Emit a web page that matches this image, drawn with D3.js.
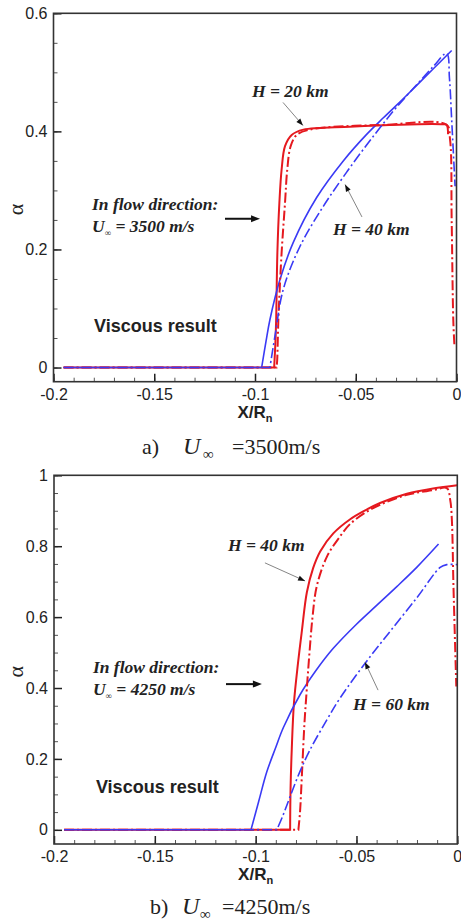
<!DOCTYPE html>
<html>
<head>
<meta charset="utf-8">
<script src="https://cdn.jsdelivr.net/npm/d3@7"></script>
<style>
  body { margin: 0; background: #fff; }
  svg { display: block; }
  .tick text { font-family: "Liberation Sans", Arial, sans-serif; font-size: 16px; fill: #222; }
</style>
</head>
<body>
<svg id="chart" width="461" height="923"></svg>
<script>
// x ticks (shared by both panels)
var xTickVals = [-0.2, -0.15, -0.1, -0.05, 0];
var xTickText = ["-0.2", "-0.15", "-0.1", "-0.05", "0"];

// panel a) U = 3500 m/s
var yTickValsA = [0, 0.2, 0.4, 0.6];
var yTickTextA = ["0", "0.2", "0.4", "0.6"];
var redSolidA = [[-0.195,0],[-0.0905,0],[-0.0899,0.04],[-0.0895,0.081],[-0.0889,0.194],[-0.0879,0.279],[-0.0868,0.335],[-0.0851,0.375],[-0.0818,0.394],[-0.076,0.403],[-0.0529,0.408],[-0.0066,0.412],[-0.0049,0.411],[-0.0042,0.395]];
var redDashA = [[-0.195,0],[-0.0893,0],[-0.089,0.012],[-0.0884,0.081],[-0.0868,0.194],[-0.0851,0.279],[-0.084,0.335],[-0.0823,0.375],[-0.0793,0.394],[-0.0727,0.403],[-0.0363,0.411],[-0.0049,0.411],[-0.0032,0.386],[-0.0024,0.25],[-0.0016,0.081],[-0.001,0.035]];
var blueSolidA = [[-0.195,0],[-0.0967,0],[-0.0945,0.045],[-0.0926,0.081],[-0.0876,0.149],[-0.081,0.212],[-0.0694,0.288],[-0.0562,0.35],[-0.0446,0.395],[-0.0363,0.423],[-0.028,0.45],[-0.02,0.477],[-0.0115,0.506],[-0.0024,0.537]];
var blueDashA = [[-0.195,0],[-0.0926,0],[-0.0901,0.053],[-0.086,0.132],[-0.0777,0.205],[-0.0661,0.273],[-0.0545,0.331],[-0.0446,0.377],[-0.038,0.406],[-0.03,0.44],[-0.02,0.478],[-0.0115,0.51],[-0.0049,0.532],[-0.0035,0.49],[-0.0024,0.42],[-0.0007,0.307]];

// panel b) U = 4250 m/s
var yTickValsB = [0, 0.2, 0.4, 0.6, 0.8, 1];
var yTickTextB = ["0", "0.2", "0.4", "0.6", "0.8", "1"];
var redSolidB = [[-0.195,0],[-0.0829,0],[-0.0827,0.113],[-0.0821,0.226],[-0.081,0.358],[-0.079,0.47],[-0.0771,0.56],[-0.0746,0.67],[-0.0715,0.738],[-0.068,0.785],[-0.0615,0.836],[-0.0531,0.876],[-0.045,0.903],[-0.0383,0.922],[-0.025,0.948],[-0.012,0.963],[0,0.972]];
var redDashB = [[-0.195,0],[-0.0788,0],[-0.078,0.05],[-0.0771,0.15],[-0.0758,0.3],[-0.0746,0.4],[-0.0733,0.5],[-0.0718,0.6],[-0.0697,0.687],[-0.0647,0.77],[-0.0581,0.828],[-0.0531,0.863],[-0.045,0.897],[-0.0383,0.917],[-0.025,0.945],[-0.012,0.958],[-0.0052,0.964],[-0.0035,0.93],[-0.0027,0.875],[-0.0019,0.687],[-0.0005,0.404]];
var blueSolidB = [[-0.195,0],[-0.1023,0],[-0.0985,0.08],[-0.0945,0.163],[-0.09,0.233],[-0.0863,0.288],[-0.078,0.381],[-0.07,0.45],[-0.0615,0.512],[-0.05,0.58],[-0.04,0.633],[-0.03,0.686],[-0.02,0.741],[-0.0093,0.806]];
var blueDashB = [[-0.195,0],[-0.0895,0],[-0.0865,0.04],[-0.0829,0.094],[-0.078,0.165],[-0.073,0.226],[-0.0647,0.31],[-0.0581,0.372],[-0.0457,0.47],[-0.0333,0.56],[-0.02,0.655],[-0.0085,0.74],[-0.0052,0.748],[0,0.748]];

var red = "#e5191f", blue = "#3a3af5";

var svg = d3.select("#chart");

function drawPanel(cfg) {
    var x = d3.scaleLinear().domain([-0.2, 0]).range([cfg.left, cfg.right]);
    var y = d3.scaleLinear().domain(cfg.yDomain).range([cfg.bottom, cfg.top]);
    var g = svg.append("g");

    // minor ticks
    g.append("g").attr("transform", "translate(0," + cfg.bottom + ")")
        .call(d3.axisBottom(x).tickValues(d3.range(-0.2, 0.0001, 0.01)).tickSize(-4).tickFormat(""))
        .call(function (s) { s.select(".domain").remove(); s.selectAll("line").attr("stroke", "#555"); });
    g.append("g").attr("transform", "translate(" + cfg.left + ",0)")
        .call(d3.axisLeft(y).tickValues(d3.range(0, cfg.yDomain[1] + 0.0001, 0.05)).tickSize(-4).tickFormat(""))
        .call(function (s) { s.select(".domain").remove(); s.selectAll("line").attr("stroke", "#555"); });

    // major ticks
    g.append("g").attr("transform", "translate(0," + cfg.bottom + ")")
        .call(d3.axisBottom(x).tickValues(xTickVals).tickSize(-8).tickPadding(7)
            .tickFormat(function (d, i) { return xTickText[i]; }))
        .call(function (s) { s.select(".domain").remove(); s.selectAll("line").attr("stroke", "#222").attr("stroke-width", 1.5); });
    g.append("g").attr("transform", "translate(" + cfg.left + ",0)")
        .call(d3.axisLeft(y).tickValues(cfg.yTicks).tickSize(-8).tickPadding(6)
            .tickFormat(function (d, i) { return cfg.yText[i]; }))
        .call(function (s) { s.select(".domain").remove(); s.selectAll("line").attr("stroke", "#222").attr("stroke-width", 1.5); });

    // flat part straight, the rest smooth
    var flat = d3.line()
        .x(function (d) { return x(d[0]); })
        .y(function (d) { return y(d[1]); });
    var smooth = d3.line()
        .x(function (d) { return x(d[0]); })
        .y(function (d) { return y(d[1]); })
        .curve(d3.curveCatmullRom.alpha(0.5));
    function pathOf(data) {
        return flat(data.slice(0, 2)) + smooth(data.slice(1)).replace(/^M/, "L");
    }

    var series = [
        { data: cfg.redSolid, color: red, w: 2, dash: null },
        { data: cfg.blueSolid, color: blue, w: 1.6, dash: null },
        { data: cfg.redDash, color: red, w: 2, dash: "10,3,2,3" },
        { data: cfg.blueDash, color: blue, w: 1.6, dash: "10,3,2,3" }
    ];
    g.selectAll("path.series").data(series).enter().append("path")
        .attr("class", "series")
        .attr("fill", "none")
        .attr("stroke", function (d) { return d.color; })
        .attr("stroke-width", function (d) { return d.w; })
        .attr("stroke-dasharray", function (d) { return d.dash; })
        .attr("d", function (d) { return pathOf(d.data); });

    // frame
    g.append("rect")
        .attr("x", cfg.left).attr("y", cfg.top)
        .attr("width", cfg.right - cfg.left).attr("height", cfg.bottom - cfg.top)
        .attr("fill", "none").attr("stroke", "#333").attr("stroke-width", 1.6);

    // axis titles
    g.append("text")
        .attr("transform", "translate(" + 23 + "," + ((cfg.top + cfg.bottom) / 2 + 12) + ") rotate(-90)")
        .attr("text-anchor", "middle")
        .style("font-family", "'Liberation Serif', serif").style("font-size", "22px").attr("fill", "#222")
        .text("α");
    var xl = g.append("text")
        .attr("x", (cfg.left + cfg.right) / 2).attr("y", cfg.bottom + 36)
        .attr("text-anchor", "middle")
        .style("font-family", "'Liberation Sans', Arial, sans-serif").style("font-size", "17px")
        .style("font-weight", "bold").attr("fill", "#222");
    xl.append("tspan").text("X/R");
    xl.append("tspan").attr("dy", 4).style("font-size", "11px").text("n");

    // annotations
    var serifBI = function (t) {
        return t.style("font-family", "'Liberation Serif', 'Times New Roman', serif")
            .style("font-size", "17.5px").style("font-weight", "bold").style("font-style", "italic").attr("fill", "#222");
    };
    cfg.labels.forEach(function (l) {
        serifBI(g.append("text").attr("x", x(l.x)).attr("y", y(l.y)).text(l.text));
    });
    var inflow = serifBI(g.append("text").attr("x", x(cfg.inflow.x)).attr("y", y(cfg.inflow.y)));
    inflow.text("In flow direction:");
    var u = serifBI(g.append("text").attr("x", x(cfg.inflow.x)).attr("y", y(cfg.inflow.y2)));
    u.append("tspan").text("U");
    u.append("tspan").attr("dy", 4).style("font-size", "9px").text("∞");
    u.append("tspan").attr("dy", -4).text(" = " + cfg.speed + " m/s");

    g.append("text").attr("x", x(cfg.viscous.x)).attr("y", y(cfg.viscous.y))
        .style("font-family", "'Liberation Sans', Arial, sans-serif").style("font-size", "18px")
        .style("font-weight", "bold").attr("fill", "#222").text("Viscous result");

    // thin pointer arrows
    cfg.pointers.forEach(function (p) {
        var x1 = x(p[0]), y1 = y(p[1]), x2 = x(p[2]), y2 = y(p[3]);
        var a = Math.atan2(y2 - y1, x2 - x1), L = 7, W = 2.6;
        g.append("line").attr("x1", x1).attr("y1", y1).attr("x2", x2).attr("y2", y2)
            .attr("stroke", "#777").attr("stroke-width", 0.9);
        g.append("path")
            .attr("d", "M" + x2 + "," + y2 +
                "L" + (x2 - L * Math.cos(a) + W * Math.sin(a)) + "," + (y2 - L * Math.sin(a) - W * Math.cos(a)) +
                "L" + (x2 - L * Math.cos(a) - W * Math.sin(a)) + "," + (y2 - L * Math.sin(a) + W * Math.cos(a)) + "Z")
            .attr("fill", "#111");
    });
    // flow arrow
    var f = cfg.flowArrow;
    var fx1 = x(f[0]), fx2 = x(f[1]), fy = y(f[2]);
    g.append("line").attr("x1", fx1).attr("y1", fy).attr("x2", fx2 - 6).attr("y2", fy)
        .attr("stroke", "#111").attr("stroke-width", 2);
    g.append("path").attr("d", "M" + fx2 + "," + fy + "L" + (fx2 - 9) + "," + (fy - 3.5) + "L" + (fx2 - 9) + "," + (fy + 3.5) + "Z")
        .attr("fill", "#111");

    // caption
    var cap = g.append("text").attr("y", cfg.capY)
        .style("font-family", "'Liberation Serif', 'Times New Roman', serif").style("font-size", "22px").attr("fill", "#222");
    cap.append("tspan").attr("x", cfg.capX[0]).text(cfg.capTag);
    cap.append("tspan").attr("x", cfg.capX[1]).style("font-style", "italic").style("font-size", "24px").text("U");
    cap.append("tspan").attr("x", cfg.capX[2]).attr("dy", 5).style("font-size", "15px").text("∞");
    cap.append("tspan").attr("x", cfg.capX[3]).attr("dy", -5).text("=" + cfg.speed + "m/s");
}

drawPanel({
    left: 53.5, right: 456.5, top: 13.3, bottom: 381.7,
    yDomain: [-0.024, 0.6], yTicks: yTickValsA, yText: yTickTextA,
    redSolid: redSolidA, redDash: redDashA, blueSolid: blueSolidA, blueDash: blueDashA,
    labels: [{ text: "H = 20 km", x: -0.1015, y: 0.459 }, { text: "H = 40 km", x: -0.0613, y: 0.225 }],
    pointers: [[-0.0861, 0.449, -0.0762, 0.41], [-0.0469, 0.255, -0.0553, 0.31]],
    inflow: { x: -0.1809, y: 0.267, y2: 0.23 },
    flowArrow: [-0.1149, -0.0975, 0.252],
    viscous: { x: -0.1799, y: 0.0605 },
    speed: "3500",
    capTag: "a)", capX: [142, 183, 203, 232], capY: 454
});

drawPanel({
    left: 54, right: 457.3, top: 475.3, bottom: 844,
    yDomain: [-0.04, 1], yTicks: yTickValsB, yText: yTickTextB,
    redSolid: redSolidB, redDash: redDashB, blueSolid: blueSolidB, blueDash: blueDashB,
    labels: [{ text: "H = 40 km", x: -0.1137, y: 0.786 }, { text: "H = 60 km", x: -0.0517, y: 0.338 }],
    pointers: [[-0.0954, 0.753, -0.0755, 0.702], [-0.0393, 0.394, -0.0458, 0.473]],
    inflow: { x: -0.1807, y: 0.442, y2: 0.38 },
    flowArrow: [-0.1147, -0.0969, 0.411],
    viscous: { x: -0.1792, y: 0.104 },
    speed: "4250",
    capTag: "b)", capX: [150, 182, 200, 222], capY: 914
});
</script>
</body>
</html>
